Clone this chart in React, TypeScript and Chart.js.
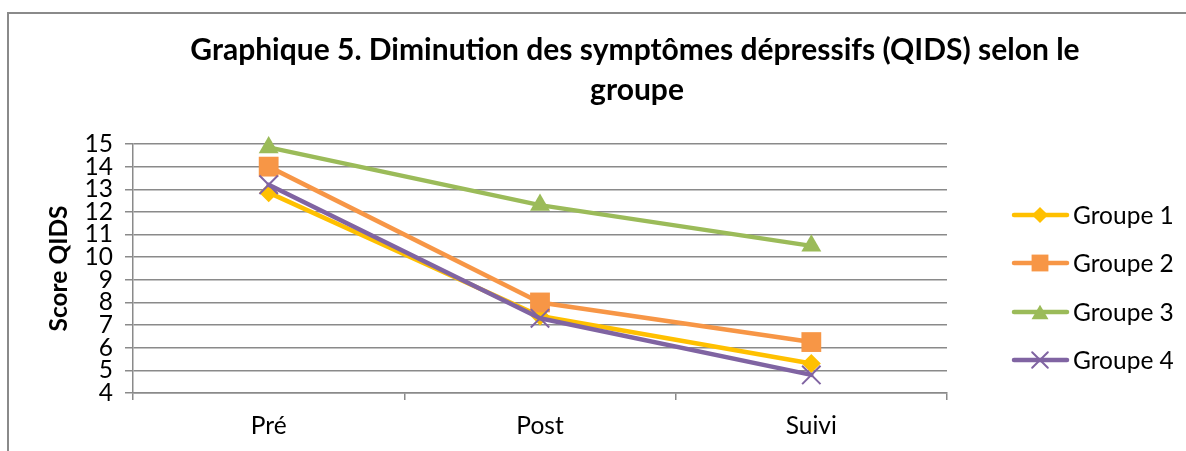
import React, { useEffect, useRef } from "react";
import { Chart, registerables } from "chart.js";

Chart.register(...registerables);

const categories = ["Pré", "Post", "Suivi"];
const seriesNames = ["Groupe 1", "Groupe 2", "Groupe 3", "Groupe 4"];
const groupe1 = [12.85, 7.4, 5.3];
const groupe2 = [14.0, 8.0, 6.25];
const groupe3 = [14.85, 12.3, 10.5];
const groupe4 = [13.2, 7.3, 4.8];
const yMin = 4;
const yMax = 15;
const titleLines = ["Graphique 5. Diminution des symptômes dépressifs (QIDS) selon le", "groupe"];
const yTitle = "Score QIDS";

const colors = ["#FFC000", "#F79646", "#9BBB59", "#8064A2"];
const styles = ["rectRot", "rect", "triangle", "crossRot"];
const radii = [9.5, 14, 11.5, 13];
const FONT = "Lato, 'DejaVu Sans', sans-serif";
const GRID = "#8a8a8a";
const LABEL_SIZE = 24.5;

function drawMarker(ctx: CanvasRenderingContext2D, style: string, x: number, y: number, r: number, color: string) {
  ctx.save();
  ctx.fillStyle = color;
  ctx.strokeStyle = color;
  ctx.beginPath();
  if (style === "rectRot") {
    ctx.moveTo(x - r, y);
    ctx.lineTo(x, y - r);
    ctx.lineTo(x + r, y);
    ctx.lineTo(x, y + r);
    ctx.closePath();
    ctx.fill();
  } else if (style === "rect") {
    const s = r * Math.SQRT1_2;
    ctx.rect(x - s, y - s, 2 * s, 2 * s);
    ctx.fill();
  } else if (style === "triangle") {
    const h = r * 1.5;
    const w = r * Math.sqrt(3) / 2;
    ctx.moveTo(x, y - h / 2);
    ctx.lineTo(x + w, y + h / 2);
    ctx.lineTo(x - w, y + h / 2);
    ctx.closePath();
    ctx.fill();
  } else {
    const s = r * Math.SQRT1_2;
    ctx.lineWidth = 2;
    ctx.moveTo(x - s, y - s);
    ctx.lineTo(x + s, y + s);
    ctx.moveTo(x + s, y - s);
    ctx.lineTo(x - s, y + s);
    ctx.stroke();
  }
  ctx.restore();
}

const framePlugin = {
  id: "frame",
  beforeDraw(chart: any) {
    const ctx = chart.ctx as CanvasRenderingContext2D;
    ctx.save();
    ctx.fillStyle = "#ffffff";
    ctx.fillRect(0, 0, chart.width, chart.height);
    ctx.strokeStyle = "#8a8a8a";
    ctx.lineWidth = 2;
    ctx.beginPath();
    ctx.moveTo(8, chart.height);
    ctx.lineTo(8, 13);
    ctx.lineTo(chart.width, 13);
    ctx.stroke();
    ctx.restore();
  },
  afterDraw(chart: any) {
    const ctx = chart.ctx as CanvasRenderingContext2D;
    ctx.save();
    // title
    ctx.fillStyle = "#000";
    ctx.font = `bold 30px ${FONT}`;
    ctx.textAlign = "center";
    ctx.textBaseline = "alphabetic";
    ctx.fillText(titleLines[0], 635, 60);
    ctx.fillText(titleLines[1], 637, 100);
    // legend
    const rows = [215, 263, 312, 360];
    ctx.font = `${LABEL_SIZE}px ${FONT}`;
    ctx.textAlign = "left";
    ctx.textBaseline = "middle";
    seriesNames.forEach((name, i) => {
      const y = rows[i];
      ctx.strokeStyle = colors[i];
      ctx.lineWidth = 4.5;
      ctx.lineCap = "round";
      ctx.beginPath();
      ctx.moveTo(1014, y);
      ctx.lineTo(1067, y);
      ctx.stroke();
      drawMarker(ctx, styles[i], 1040, y, radii[i] * 0.85, colors[i]);
      ctx.fillStyle = "#000";
      ctx.fillText(name, 1073, y + 1);
    });
    ctx.restore();
  },
};

export default function App() {
  const ref = useRef<HTMLCanvasElement>(null);
  useEffect(() => {
    if (!ref.current) return;
    const allSeries = [groupe1, groupe2, groupe3, groupe4];
    const chart = new Chart(ref.current, {
      type: "line",
      data: {
        labels: categories,
        datasets: allSeries.map((d, i) => ({
          label: seriesNames[i],
          data: d,
          borderColor: colors[i],
          backgroundColor: colors[i],
          borderWidth: 4.5,
          borderCapStyle: "round",
          borderJoinStyle: "round",
          tension: 0,
          pointStyle: styles[i] as any,
          pointRadius: radii[i],
          pointHoverRadius: radii[i],
          pointBorderColor: colors[i],
          pointBackgroundColor: colors[i],
          pointBorderWidth: i === 3 ? 2 : 0,
          order: 3 - i,
          clip: false as any,
        })),
      },
      options: {
        animation: false,
        responsive: false,
        events: [],
        layout: { padding: { left: 0, top: 144, right: 239, bottom: 0 } },
        plugins: {
          legend: { display: false },
          title: { display: false },
          tooltip: { enabled: false },
        },
        scales: {
          x: {
            type: "category",
            offset: true,
            grid: {
              offset: true,
              drawOnChartArea: false,
              drawTicks: true,
              tickLength: 7,
              color: GRID,
              lineWidth: 1.5,
            },
            border: { display: true, color: GRID, width: 1.5 },
            ticks: { color: "#000", font: { family: FONT, size: LABEL_SIZE }, padding: 11 },
            afterFit(scale: any) {
              scale.height = 58;
            },
          },
          y: {
            min: yMin,
            max: yMax,
            ticks: { stepSize: 1, color: "#000", font: { family: FONT, size: LABEL_SIZE }, padding: 12, autoSkip: false },
            grid: { color: GRID, lineWidth: 1.5, drawTicks: true, tickLength: 8 },
            border: { display: true, color: GRID, width: 1.5 },
            title: {
              display: true,
              text: yTitle,
              color: "#000",
              font: { family: FONT, size: 24.5, weight: "bold" },
              padding: { top: 44, bottom: 0 },
            },
            afterFit(scale: any) {
              scale.width = 133;
            },
          },
        },
      },
      plugins: [framePlugin],
    });
    return () => chart.destroy();
  }, []);
  return (
    <div style={{ position: "fixed", left: 0, top: 0, width: 1186, height: 451, overflow: "hidden", background: "#fff" }}>
      <canvas ref={ref} width={1186} height={451} style={{ display: "block", width: 1186, height: 451 }} />
    </div>
  );
}
